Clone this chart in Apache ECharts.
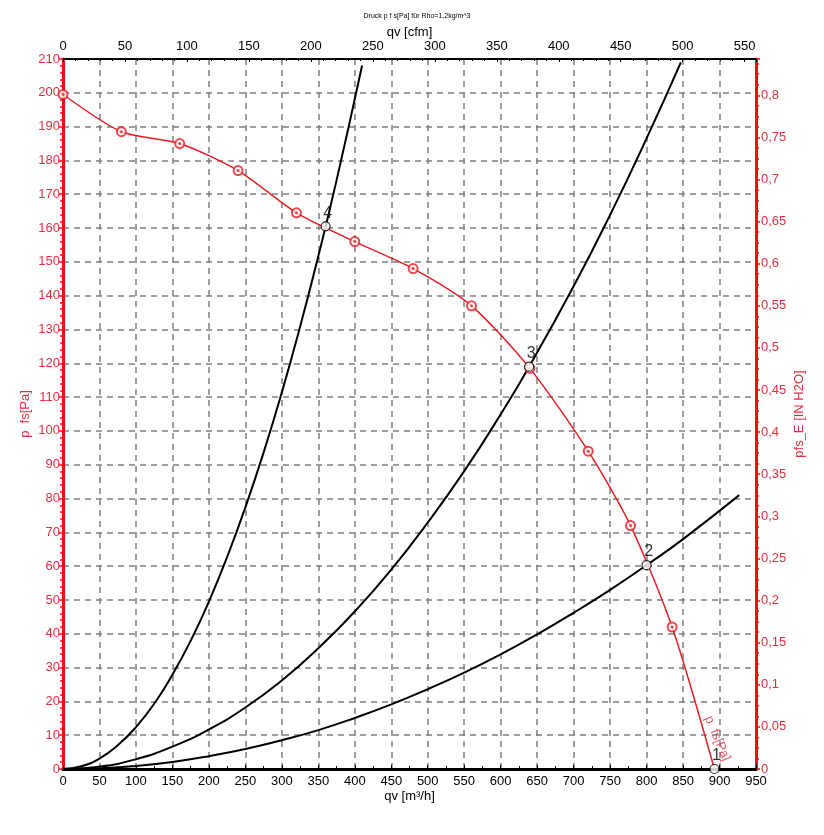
<!DOCTYPE html>
<html>
<head>
<meta charset="utf-8">
<script src="https://cdn.jsdelivr.net/npm/echarts@6/dist/echarts.min.js"></script>
<style>html,body{margin:0;padding:0;background:#fff;}#c{width:824px;height:835px;}</style>
</head>
<body>
<div id="c"></div>
<script>
// Fan curve p fs [Pa] vs qv [m3/h]
const fanCurve = [[0,199.5],[80,188.5],[160,185],[240,177],[320,164.5],[400,156],[480,148],[560,137],[640,118.5],[720,94],[778,72],[835,42],[893,0]];
const fanMarkers = [[0,199.5],[80,188.5],[160,185],[240,177],[320,164.5],[400,156],[480,148],[560,137],[640,118.5],[720,94],[778,72],[835,42]];
// System curves
const sys4 = [[0,0],[25,0.8],[50,3.1],[75,7],[100,12.4],[125,19.3],[150,27.9],[175,37.9],[200,49.5],[225,62.7],[250,77.4],[275,93.6],[300,111.4],[325,130.8],[350,151.7],[375,174.1],[410,208.1]];
const sys3 = [[0,0],[50,0.7],[100,2.9],[150,6.6],[200,11.7],[250,18.2],[300,26.2],[350,35.7],[400,46.6],[450,59],[500,72.9],[550,88.1],[600,104.9],[639,119],[700,142.8],[750,163.9],[800,186.5],[847,209]];
const sys2 = [[0,0],[50,0.2],[100,0.9],[150,2.1],[200,3.8],[250,5.9],[300,8.5],[350,11.5],[400,15.1],[450,19.1],[500,23.6],[550,28.5],[600,33.9],[650,39.8],[700,46.2],[750,53],[800,60.3],[850,68],[927,81]];
// Operating points
const opPoints = [[893,0,'1'],[800,60.3,'2'],[639,119,'3'],[360,160.5,'4']];
const curveLabel = [[897,9,'p  fs[Pa]']];

const RED = '#ee1111';
const RED_TXT = '#e03040';
const LINE_RED = '#e81c24';
const FONT = 'Liberation Sans, Arial, sans-serif';
const M3H_PER_CFM = 1.699011;
const PA_PER_INH2O = 249.089;

const chart = echarts.init(document.getElementById('c'));
chart.setOption({
  animation: false,
  backgroundColor: '#fff',
  textStyle: {fontFamily: FONT},
  title: {
    text: 'Druck p f s[Pa] für Rho=1,2kg/m^3',
    left: 412, top: 8, textAlign: 'center',
    textStyle: {fontSize: 7, fontWeight: 'normal', color: '#000', fontFamily: FONT}
  },
  grid: {left: 63, right: 68, top: 59, bottom: 66, containLabel: false},
  xAxis: [
    {
      type: 'value', position: 'bottom', min: 0, max: 950, interval: 50,
      name: 'qv [m³/h]', nameLocation: 'middle', nameGap: 21, nameMoveOverlap: false,
      nameTextStyle: {fontSize: 13, color: '#000', fontFamily: FONT},
      axisLine: {show: true, onZero: false, lineStyle: {color: '#000', width: 3}},
      axisTick: {show: true, inside: true, length: 4, lineStyle: {color: '#000'}},
      minorTick: {show: true, splitNumber: 2, length: 3, lineStyle: {color: '#000'}},
      axisLabel: {fontSize: 13, color: '#000', margin: 6, fontFamily: FONT},
      splitLine: {show: true, lineStyle: {color: '#7f7f7f', width: 1.5, type: [6,5]}}
    },
    {
      type: 'value', position: 'top', min: 0, max: 950 / M3H_PER_CFM, interval: 50,
      name: 'qv [cfm]', nameLocation: 'middle', nameGap: 20, nameMoveOverlap: false,
      nameTextStyle: {fontSize: 13, color: '#000', fontFamily: FONT},
      axisLine: {show: true, onZero: false, lineStyle: {color: '#000', width: 2}},
      axisTick: {show: true, inside: true, length: 3, lineStyle: {color: '#000'}},
      minorTick: {show: true, splitNumber: 5, length: 2, lineStyle: {color: '#000'}},
      axisLabel: {fontSize: 13, color: '#000', margin: 6, showMaxLabel: false, fontFamily: FONT},
      splitLine: {show: false}
    }
  ],
  yAxis: [
    {
      type: 'value', position: 'left', min: 0, max: 210, interval: 10,
      name: 'p  fs[Pa]', nameLocation: 'middle', nameGap: 31, nameRotate: 90, nameMoveOverlap: false,
      nameTextStyle: {fontSize: 13, color: RED_TXT, fontFamily: FONT},
      axisLine: {show: true, onZero: false, lineStyle: {color: RED, width: 3}},
      axisTick: {show: true, length: 4, lineStyle: {color: RED, width: 1.5}},
      minorTick: {show: true, splitNumber: 5, length: 3, lineStyle: {color: RED, width: 1.5}},
      axisLabel: {fontSize: 13, color: RED_TXT, margin: 3, fontFamily: FONT},
      splitLine: {show: true, lineStyle: {color: '#7f7f7f', width: 1.5, type: [6,5]}}
    },
    {
      type: 'value', position: 'right', min: 0, max: 210 / PA_PER_INH2O, interval: 0.05,
      name: 'pfs_E [IN H2O]', nameLocation: 'middle', nameGap: 37, nameRotate: 90, nameMoveOverlap: false,
      nameTextStyle: {fontSize: 13, color: RED_TXT, fontFamily: FONT},
      axisLine: {show: true, onZero: false, lineStyle: {color: RED, width: 3}},
      axisTick: {show: true, length: 4, lineStyle: {color: RED, width: 1.5}},
      minorTick: {show: true, splitNumber: 4, length: 3, lineStyle: {color: RED, width: 1.5}},
      axisLabel: {fontSize: 13, color: RED_TXT, margin: 5, showMaxLabel: false, fontFamily: FONT,
        formatter: v => String(Math.round(v * 100) / 100).replace('.', ',')},
      splitLine: {show: false}
    }
  ],
  series: [
    {type: 'line', data: sys4, smooth: 0.5, symbol: 'none', lineStyle: {color: '#000', width: 2}, clip: true, z: 3},
    {type: 'line', data: sys3, smooth: 0.5, symbol: 'none', lineStyle: {color: '#000', width: 2}, clip: true, z: 3},
    {type: 'line', data: sys2, smooth: 0.5, symbol: 'none', lineStyle: {color: '#000', width: 2}, clip: false, z: 3},
    {type: 'line', data: fanCurve, smooth: 0.25, symbol: 'none', lineStyle: {color: LINE_RED, width: 1.5}, z: 4},
    {type: 'scatter', data: fanMarkers, symbol: 'emptyCircle', symbolSize: 9,
      itemStyle: {color: LINE_RED, borderColor: LINE_RED, borderWidth: 1.5}, z: 5},
    {type: 'scatter', data: fanMarkers, symbol: 'circle', symbolSize: 3,
      itemStyle: {color: LINE_RED}, z: 6},
    {type: 'scatter', data: opPoints, symbol: 'circle', symbolSize: 9,
      itemStyle: {color: '#fff', borderColor: '#000', borderWidth: 1.2}, z: 7,
      label: {show: true, position: 'top', distance: 0, offset: [2, 0], formatter: p => p.data[2],
        fontSize: 16, color: '#000', fontFamily: FONT}},
    {type: 'scatter', data: curveLabel, symbolSize: 0, z: 8, silent: true,
      label: {show: true, position: 'inside', rotate: -67, formatter: p => p.data[2],
        fontSize: 13, color: RED_TXT, fontFamily: FONT}}
  ]
});
</script>
</body>
</html>
